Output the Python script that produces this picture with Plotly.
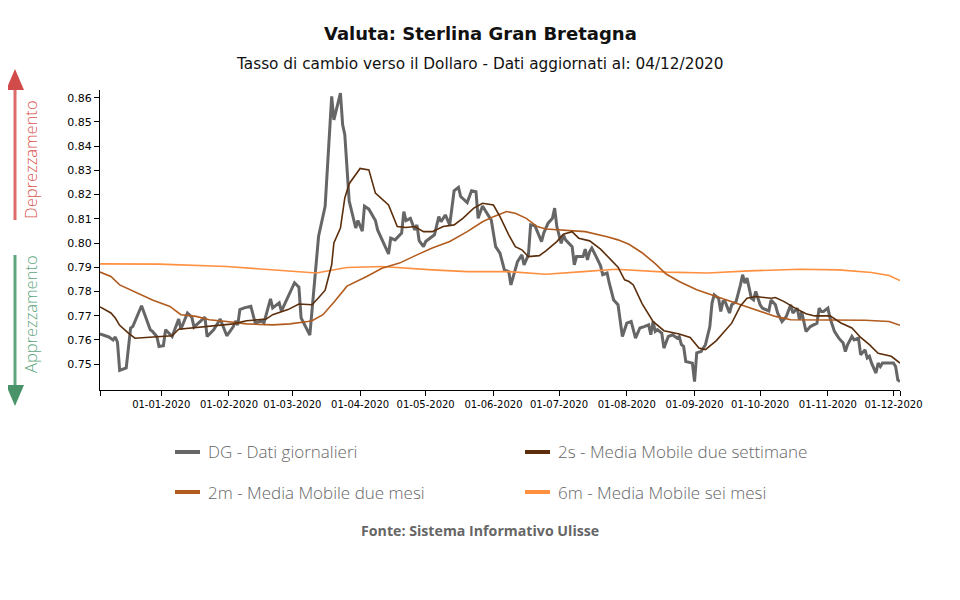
import plotly.graph_objects as go

# ---------------- data ----------------
dg_dates = [
    "2019-12-04", "2019-12-08", "2019-12-10", "2019-12-11", "2019-12-12", "2019-12-13", "2019-12-16", "2019-12-18",
    "2019-12-19", "2019-12-23", "2019-12-27", "2019-12-28", "2019-12-30", "2019-12-31", "2020-01-02", "2020-01-03",
    "2020-01-06", "2020-01-09", "2020-01-10", "2020-01-13", "2020-01-15", "2020-01-16", "2020-01-21", "2020-01-22",
    "2020-01-25", "2020-01-28", "2020-01-31", "2020-02-03", "2020-02-04", "2020-02-05", "2020-02-06", "2020-02-08",
    "2020-02-11", "2020-02-13", "2020-02-16", "2020-02-17", "2020-02-20", "2020-02-21", "2020-02-24", "2020-02-25",
    "2020-03-02", "2020-03-04", "2020-03-05", "2020-03-09", "2020-03-13", "2020-03-16", "2020-03-19", "2020-03-20",
    "2020-03-23", "2020-03-24", "2020-03-25", "2020-03-27", "2020-03-30", "2020-03-31", "2020-04-02", "2020-04-03",
    "2020-04-05", "2020-04-08", "2020-04-09", "2020-04-14", "2020-04-15", "2020-04-17", "2020-04-20", "2020-04-21",
    "2020-04-22", "2020-04-24", "2020-04-26", "2020-04-27", "2020-04-28", "2020-04-30", "2020-05-01", "2020-05-05",
    "2020-05-07", "2020-05-08", "2020-05-10", "2020-05-12", "2020-05-14", "2020-05-16", "2020-05-17", "2020-05-20",
    "2020-05-22", "2020-05-24", "2020-05-25", "2020-05-27", "2020-05-30", "2020-05-31", "2020-06-02", "2020-06-04",
    "2020-06-06", "2020-06-08", "2020-06-09", "2020-06-11", "2020-06-12", "2020-06-14", "2020-06-15", "2020-06-17",
    "2020-06-18", "2020-06-20", "2020-06-21", "2020-06-23", "2020-06-24", "2020-06-26", "2020-06-28", "2020-06-29",
    "2020-06-30", "2020-07-02", "2020-07-03", "2020-07-04", "2020-07-07", "2020-07-08", "2020-07-09", "2020-07-12",
    "2020-07-13", "2020-07-14", "2020-07-15", "2020-07-16", "2020-07-18", "2020-07-20", "2020-07-21", "2020-07-23",
    "2020-07-24", "2020-07-26", "2020-07-28", "2020-07-30", "2020-08-01", "2020-08-03", "2020-08-05", "2020-08-07",
    "2020-08-09", "2020-08-11", "2020-08-12", "2020-08-13", "2020-08-14", "2020-08-15", "2020-08-17", "2020-08-18",
    "2020-08-20", "2020-08-22", "2020-08-24", "2020-08-25", "2020-08-26", "2020-08-27", "2020-08-28", "2020-08-31",
    "2020-09-01", "2020-09-02", "2020-09-04", "2020-09-06", "2020-09-08", "2020-09-09", "2020-09-10", "2020-09-12",
    "2020-09-13", "2020-09-14", "2020-09-15", "2020-09-17", "2020-09-18", "2020-09-20", "2020-09-22", "2020-09-23",
    "2020-09-24", "2020-09-25", "2020-09-26", "2020-09-27", "2020-09-28", "2020-09-29", "2020-10-01", "2020-10-02",
    "2020-10-05", "2020-10-06", "2020-10-08", "2020-10-09", "2020-10-11", "2020-10-13", "2020-10-15", "2020-10-16",
    "2020-10-18", "2020-10-19", "2020-10-20", "2020-10-22", "2020-10-24", "2020-10-27", "2020-10-28", "2020-10-29",
    "2020-10-30", "2020-11-01", "2020-11-02", "2020-11-04", "2020-11-06", "2020-11-08", "2020-11-09", "2020-11-10",
    "2020-11-12", "2020-11-13", "2020-11-15", "2020-11-16", "2020-11-18", "2020-11-19", "2020-11-20", "2020-11-21",
    "2020-11-23", "2020-11-24", "2020-11-25", "2020-11-26", "2020-11-29", "2020-12-01", "2020-12-02", "2020-12-03",
    "2020-12-04",
]
dg_values = [
    0.7625, 0.7612, 0.7600, 0.7612, 0.7590, 0.7474, 0.7484, 0.7649,
    0.7655, 0.7741, 0.7642, 0.7635, 0.7614, 0.7573, 0.7576, 0.7642,
    0.7614, 0.7686, 0.7644, 0.7711, 0.7694, 0.7653, 0.7694, 0.7614,
    0.7642, 0.7686, 0.7617, 0.7655, 0.7678, 0.7661, 0.7725, 0.7732,
    0.7739, 0.7670, 0.7678, 0.7670, 0.7769, 0.7732, 0.7753, 0.7719,
    0.7836, 0.7818, 0.7691, 0.7620, 0.8028, 0.8152, 0.8606, 0.8509,
    0.8619, 0.8489, 0.8447, 0.8173, 0.8062, 0.8093, 0.8049, 0.8152,
    0.8140, 0.8093, 0.8054, 0.7955, 0.8020, 0.8013, 0.8041, 0.8130,
    0.8093, 0.8102, 0.8054, 0.8075, 0.8010, 0.7985, 0.8006, 0.8034,
    0.8109, 0.8088, 0.8116, 0.8075, 0.8216, 0.8230, 0.8192, 0.8167,
    0.8216, 0.8212, 0.8102, 0.8153, 0.8109, 0.8095, 0.7985, 0.7958,
    0.7889, 0.7882, 0.7827, 0.7896, 0.7923, 0.7951, 0.7910, 0.7951,
    0.8075, 0.8071, 0.8047, 0.8006, 0.8041, 0.8082, 0.8102, 0.8144,
    0.8068, 0.7999, 0.8034, 0.8013, 0.7985, 0.7910, 0.7944, 0.7944,
    0.7975, 0.7930, 0.7965, 0.7979, 0.7944, 0.7906, 0.7869, 0.7876,
    0.7834, 0.7765, 0.7745, 0.7614, 0.7669, 0.7676, 0.7607, 0.7649,
    0.7655, 0.7662, 0.7621, 0.7676, 0.7635, 0.7642, 0.7628, 0.7566,
    0.7614, 0.7621, 0.7607, 0.7614, 0.7580, 0.7573, 0.7511, 0.7504,
    0.7428, 0.7546, 0.7552, 0.7580, 0.7655, 0.7752, 0.7786, 0.7772,
    0.7717, 0.7758, 0.7758, 0.7711, 0.7745, 0.7758, 0.7827, 0.7869,
    0.7834, 0.7855, 0.7814, 0.7772, 0.7765, 0.7800, 0.7745, 0.7731,
    0.7720, 0.7765, 0.7745, 0.7711, 0.7676, 0.7697, 0.7745, 0.7711,
    0.7731, 0.7683, 0.7717, 0.7635, 0.7655, 0.7669, 0.7731, 0.7717,
    0.7717, 0.7731, 0.7690, 0.7635, 0.7607, 0.7587, 0.7552, 0.7580,
    0.7614, 0.7600, 0.7607, 0.7538, 0.7559, 0.7525, 0.7532, 0.7504,
    0.7463, 0.7504, 0.7490, 0.7504, 0.7504, 0.7504, 0.7490, 0.7435,
    0.7428,
]

ma2s_dates = [
    "2019-12-04", "2019-12-09", "2019-12-11", "2019-12-13", "2019-12-17", "2019-12-20", "2019-12-25", "2020-01-03",
    "2020-01-06", "2020-01-09", "2020-01-15", "2020-01-22", "2020-01-30", "2020-02-03", "2020-02-09", "2020-02-14",
    "2020-02-18", "2020-02-21", "2020-02-28", "2020-03-04", "2020-03-10", "2020-03-13", "2020-03-16", "2020-03-19",
    "2020-03-20", "2020-03-23", "2020-03-25", "2020-03-27", "2020-03-29", "2020-04-01", "2020-04-05", "2020-04-08",
    "2020-04-14", "2020-04-18", "2020-04-22", "2020-04-26", "2020-04-30", "2020-05-04", "2020-05-09", "2020-05-14",
    "2020-05-18", "2020-05-23", "2020-05-27", "2020-06-01", "2020-06-04", "2020-06-08", "2020-06-11", "2020-06-14",
    "2020-06-17", "2020-06-22", "2020-06-25", "2020-06-30", "2020-07-03", "2020-07-07", "2020-07-10", "2020-07-15",
    "2020-07-20", "2020-07-24", "2020-07-28", "2020-07-31", "2020-08-02", "2020-08-04", "2020-08-08", "2020-08-13",
    "2020-08-18", "2020-08-25", "2020-08-30", "2020-09-03", "2020-09-06", "2020-09-11", "2020-09-18", "2020-09-22",
    "2020-09-25", "2020-09-29", "2020-10-06", "2020-10-08", "2020-10-12", "2020-10-17", "2020-10-22", "2020-10-26",
    "2020-11-02", "2020-11-07", "2020-11-12", "2020-11-16", "2020-11-20", "2020-11-24", "2020-11-30", "2020-12-04",
]
ma2s_values = [
    0.7736, 0.7711, 0.7690, 0.7660, 0.7628, 0.7607, 0.7610, 0.7614,
    0.7617, 0.7644, 0.7649, 0.7655, 0.7662, 0.7666, 0.7679, 0.7684,
    0.7686, 0.7704, 0.7725, 0.7748, 0.7745, 0.7774, 0.7805, 0.7910,
    0.8000, 0.8062, 0.8186, 0.8245, 0.8272, 0.8308, 0.8302, 0.8206,
    0.8157, 0.8068, 0.8064, 0.8068, 0.8047, 0.8047, 0.8068, 0.8075,
    0.8102, 0.8144, 0.8164, 0.8157, 0.8109, 0.8034, 0.7985, 0.7972,
    0.7944, 0.7948, 0.7968, 0.8006, 0.8036, 0.8047, 0.8020, 0.8009,
    0.7975, 0.7937, 0.7900, 0.7848, 0.7841, 0.7827, 0.7750, 0.7676,
    0.7638, 0.7624, 0.7610, 0.7566, 0.7560, 0.7597, 0.7669, 0.7740,
    0.7772, 0.7779, 0.7772, 0.7775, 0.7758, 0.7731, 0.7708, 0.7699,
    0.7699, 0.7670, 0.7649, 0.7610, 0.7580, 0.7545, 0.7532, 0.7504,
]

ma2m_dates = [
    "2019-12-04", "2019-12-09", "2019-12-13", "2019-12-21", "2019-12-28", "2020-01-05", "2020-01-10", "2020-01-17",
    "2020-01-23", "2020-01-31", "2020-02-09", "2020-02-21", "2020-02-29", "2020-03-08", "2020-03-10", "2020-03-15",
    "2020-03-20", "2020-03-26", "2020-04-01", "2020-04-04", "2020-04-11", "2020-04-19", "2020-04-27", "2020-05-04",
    "2020-05-12", "2020-05-20", "2020-05-27", "2020-06-01", "2020-06-07", "2020-06-11", "2020-06-16", "2020-06-21",
    "2020-06-25", "2020-07-04", "2020-07-13", "2020-07-23", "2020-07-28", "2020-08-02", "2020-08-08", "2020-08-14",
    "2020-08-19", "2020-08-25", "2020-09-02", "2020-09-11", "2020-09-20", "2020-09-29", "2020-10-08", "2020-10-15",
    "2020-10-26", "2020-11-06", "2020-11-18", "2020-11-29", "2020-12-04",
]
ma2m_values = [
    0.7880, 0.7862, 0.7827, 0.7793, 0.7765, 0.7738, 0.7704, 0.7697,
    0.7683, 0.7676, 0.7666, 0.7662, 0.7666, 0.7676, 0.7679, 0.7704,
    0.7755, 0.7822, 0.7848, 0.7862, 0.7896, 0.7917, 0.7951, 0.7979,
    0.8006, 0.8047, 0.8088, 0.8109, 0.8130, 0.8123, 0.8102, 0.8068,
    0.8058, 0.8054, 0.8047, 0.8026, 0.8013, 0.7995, 0.7960, 0.7915,
    0.7872, 0.7841, 0.7807, 0.7779, 0.7752, 0.7724, 0.7697, 0.7683,
    0.7683, 0.7683, 0.7681, 0.7676, 0.7660,
]

ma6m_dates = [
    "2019-12-04", "2019-12-31", "2020-01-31", "2020-03-01", "2020-03-12", "2020-03-26", "2020-04-11", "2020-05-04",
    "2020-05-20", "2020-06-08", "2020-06-25", "2020-07-12", "2020-07-27", "2020-08-19", "2020-09-07", "2020-09-26",
    "2020-10-19", "2020-11-06", "2020-11-21", "2020-11-29", "2020-12-04",
]
ma6m_values = [
    0.7914, 0.7913, 0.7903, 0.7882, 0.7876, 0.7899, 0.7903, 0.7889,
    0.7882, 0.7882, 0.7871, 0.7882, 0.7892, 0.7880, 0.7876, 0.7885,
    0.7892, 0.7889, 0.7878, 0.7866, 0.7845,
]

month_ticks = ["2020-01-01", "2020-02-01", "2020-03-01", "2020-04-01", "2020-05-01", "2020-06-01",
               "2020-07-01", "2020-08-01", "2020-09-01", "2020-10-01", "2020-11-01", "2020-12-01"]
month_labels = ["01-01-2020", "01-02-2020", "01-03-2020", "01-04-2020", "01-05-2020", "01-06-2020",
                "01-07-2020", "01-08-2020", "01-09-2020", "01-10-2020", "01-11-2020", "01-12-2020"]
x_start, x_end = "2019-12-04", "2020-12-04"
y_ticks = [0.75, 0.76, 0.77, 0.78, 0.79, 0.80, 0.81, 0.82, 0.83, 0.84, 0.85, 0.86]

series_names = ["DG - Dati giornalieri", "2s - Media Mobile due settimane",
                "2m - Media Mobile due mesi", "6m - Media Mobile sei mesi"]
title_text = "Valuta: Sterlina Gran Bretagna"
subtitle_text = "Tasso di cambio verso il Dollaro - Dati aggiornati al: 04/12/2020"
source_text = "Fonte: Sistema Informativo Ulisse"

# ---------------- style ----------------
PAGE_W, PAGE_H = 960, 600
BODY = 8                              # browser default body margin
W, H = PAGE_W - BODY, PAGE_H - BODY
PL, PR, PT, PB = 100, 900, 90, 390   # plot area in page pixels
C_DG, C_2S, C_2M, C_6M = "#666666", "#5C2E0B", "#B25B1E", "#FF9040"
RED_SHAFT, RED_HEAD, RED_TXT = "#DE6A6A", "#D24B4B", "#D9534F"
GRN_SHAFT, GRN_HEAD, GRN_TXT = "#5FA67F", "#4A9268", "#5CA57C"


def px(x):
    return (x - PL) / (PR - PL)


def py(y):
    return (PB - y) / (PB - PT)


fig = go.Figure()
fig.add_trace(go.Scatter(x=dg_dates, y=dg_values, mode="lines", name=series_names[0],
                         line=dict(color=C_DG, width=3), showlegend=False))
fig.add_trace(go.Scatter(x=ma6m_dates, y=ma6m_values, mode="lines", name=series_names[3],
                         line=dict(color=C_6M, width=1.6), showlegend=False))
fig.add_trace(go.Scatter(x=ma2m_dates, y=ma2m_values, mode="lines", name=series_names[2],
                         line=dict(color=C_2M, width=1.6), showlegend=False))
fig.add_trace(go.Scatter(x=ma2s_dates, y=ma2s_values, mode="lines", name=series_names[1],
                         line=dict(color=C_2S, width=1.6), showlegend=False))

shapes = []
annotations = []

# titles
annotations.append(dict(text=title_text, x=px(480), y=py(34), xref="paper", yref="paper",
                        showarrow=False, xanchor="center", yanchor="middle",
                        font=dict(family="DejaVu Sans", size=18, color="#111111", weight="bold")))
annotations.append(dict(text=subtitle_text, x=px(480), y=py(64), xref="paper", yref="paper",
                        showarrow=False, xanchor="center", yanchor="middle",
                        font=dict(family="DejaVu Sans", size=15.3, color="#111111")))
annotations.append(dict(text="<b>" + source_text + "</b>", x=px(480), y=py(530), xref="paper", yref="paper",
                        showarrow=False, xanchor="center", yanchor="middle",
                        font=dict(family="Open Sans", size=14.2, color="#666666")))

# manual legend
leg_items = [(series_names[0], C_DG, 175, 452), (series_names[1], C_2S, 525, 452),
             (series_names[2], C_2M, 175, 492), (series_names[3], C_6M, 525, 492)]
for name, col, lx, ly in leg_items:
    shapes.append(dict(type="line", xref="paper", yref="paper", x0=px(lx), x1=px(lx + 25),
                       y0=py(ly), y1=py(ly), line=dict(color=col, width=4)))
    annotations.append(dict(text=name, x=px(lx + 31), y=py(ly), xref="paper", yref="paper",
                            showarrow=False, xanchor="left", yanchor="middle",
                            font=dict(family="Open Sans", size=17, color="#666666", weight=300)))

# side arrows
shapes.append(dict(type="line", xref="paper", yref="paper", x0=px(15), x1=px(15), y0=py(220), y1=py(89),
                   line=dict(color=RED_SHAFT, width=3)))
shapes.append(dict(type="path", xref="paper", yref="paper",
                   path=f"M {px(6)},{py(90)} L {px(15)},{py(69)} L {px(24)},{py(90)} Z",
                   fillcolor=RED_HEAD, line=dict(color=RED_HEAD, width=0)))
shapes.append(dict(type="line", xref="paper", yref="paper", x0=px(15), x1=px(15), y0=py(255), y1=py(386),
                   line=dict(color=GRN_SHAFT, width=3)))
shapes.append(dict(type="path", xref="paper", yref="paper",
                   path=f"M {px(6)},{py(385)} L {px(15)},{py(406)} L {px(24)},{py(385)} Z",
                   fillcolor=GRN_HEAD, line=dict(color=GRN_HEAD, width=0)))
annotations.append(dict(text="Deprezzamento", x=px(30), y=py(160), xref="paper", yref="paper",
                        showarrow=False, textangle=-90, xanchor="center", yanchor="middle",
                        font=dict(family="Open Sans", size=16.5, color=RED_TXT, weight=300)))
annotations.append(dict(text="Apprezzamento", x=px(30), y=py(314), xref="paper", yref="paper",
                        showarrow=False, textangle=-90, xanchor="center", yanchor="middle",
                        font=dict(family="Open Sans", size=16.5, color=GRN_TXT, weight=300)))

fig.update_layout(
    width=W, height=H,
    margin=dict(l=PL - BODY, r=PAGE_W - PR, t=PT - BODY, b=PAGE_H - PB, pad=0),
    paper_bgcolor="white", plot_bgcolor="white",
    showlegend=False,
    shapes=shapes, annotations=annotations,
    font=dict(family="DejaVu Sans", color="#000000"),
    xaxis=dict(type="date", range=[x_start, x_end],
               tickvals=[x_start] + month_ticks + [x_end],
               ticktext=[""] + month_labels + [""],
               showgrid=False, zeroline=False, showline=True, linecolor="#000000", linewidth=1,
               ticks="outside", ticklen=5, tickcolor="#000000", tickwidth=1,
               tickfont=dict(family="DejaVu Sans", size=10, color="#000000")),
    yaxis=dict(range=[0.7393, 0.8632], tickvals=y_ticks, tickformat=".2f",
               showgrid=False, zeroline=False, showline=True, linecolor="#000000", linewidth=1,
               ticks="outside", ticklen=5, tickcolor="#000000", tickwidth=1,
               tickfont=dict(family="DejaVu Sans", size=11, color="#000000")),
)

fig.write_html("out.html")
